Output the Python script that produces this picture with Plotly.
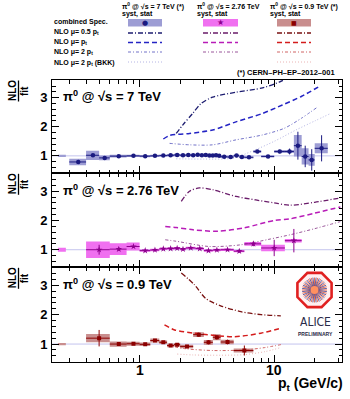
import plotly.graph_objects as go
import numpy as np

W, H = 350, 399
FONT = "Liberation Sans"

# ---------------- data (ratio NLO / fit) ----------------
# 7 TeV combined spectrum
pt_edges_7 = [0.3, 0.4, 0.5, 0.6, 0.8, 1.0, 1.2, 1.4, 1.6, 1.8, 2.0, 2.2, 2.4, 2.6, 2.8, 3.0,
              3.2, 3.4, 3.6, 3.8, 4.0, 4.5, 5.0, 5.5, 6.0, 7.0, 8.0, 10, 12, 14, 16, 18, 20, 25]
ratio_7 = [0.79, 1.02, 0.93, 0.99, 1.00, 0.99, 1.00, 1.01, 1.02, 1.03, 1.02, 1.03, 1.02, 1.04, 1.02,
           1.03, 1.01, 1.01, 1.02, 1.00, 0.97, 0.96, 1.01, 0.96, 0.95, 1.15, 0.98, 1.15, 1.15,
           1.35, 0.98, 0.86, 1.26]
stat_7 = [0.07, 0.05, 0.05, 0.03, 0.02, 0.02, 0.02, 0.02, 0.02, 0.02, 0.02, 0.02, 0.02, 0.02, 0.02,
          0.02, 0.02, 0.02, 0.02, 0.02, 0.02, 0.02, 0.03, 0.03, 0.03, 0.04, 0.04, 0.06, 0.10,
          0.48, 0.37, 0.37, 0.45]
syst_7 = [0.11, 0.16, 0.08, 0.05, 0.04, 0.04, 0.04, 0.04, 0.04, 0.04, 0.04, 0.04, 0.04, 0.04, 0.04,
          0.04, 0.04, 0.04, 0.04, 0.04, 0.04, 0.04, 0.04, 0.04, 0.04, 0.05, 0.04, 0.05, 0.05,
          0.37, 0.28, 0.20, 0.17]

# 2.76 TeV
pt_edges_276 = [0.4, 0.6, 0.8, 1.0, 1.2, 1.4, 1.6, 1.8, 2.0, 2.2, 2.6, 3.0, 3.5, 4.0, 5.0, 6.0, 8.0, 12, 16]
ratio_276 = [1.00, 1.02, 1.11, 0.97, 0.99, 1.03, 1.04, 1.05, 1.02, 1.06, 1.04, 0.97, 0.99, 1.00,
             0.95, 1.20, 1.06, 1.31]
stat_276 = [0.17, 0.06, 0.05, 0.02, 0.02, 0.02, 0.02, 0.02, 0.02, 0.03, 0.03, 0.03, 0.03, 0.04,
            0.05, 0.08, 0.28, 0.40]
syst_276 = [0.28, 0.20, 0.14, 0.04, 0.04, 0.04, 0.04, 0.04, 0.04, 0.04, 0.04, 0.04, 0.04, 0.04,
            0.04, 0.06, 0.11, 0.06]

# 0.9 TeV
pt_edges_09 = [0.4, 0.6, 0.8, 1.0, 1.2, 1.4, 1.6, 1.8, 2.0, 2.5, 3.0, 3.5, 4.0, 5.0, 7.0]
ratio_09 = [1.20, 1.00, 1.01, 0.99, 1.12, 1.06, 0.95, 0.98, 0.92, 1.32, 1.06, 1.23, 1.07, 0.78]
stat_09 = [0.28, 0.05, 0.04, 0.03, 0.04, 0.04, 0.04, 0.05, 0.05, 0.07, 0.07, 0.08, 0.08, 0.17]
syst_09 = [0.14, 0.09, 0.07, 0.06, 0.07, 0.06, 0.06, 0.06, 0.06, 0.08, 0.08, 0.10, 0.08, 0.07]

# normalisation uncertainty boxes (drawn at left edge)
norm_pt = [0.247, 0.283]
norm_unc = [0.035, 0.07, 0.04]

# NLO curves: 7 TeV
nlo05_7_pt = [1.87, 2.09, 2.48, 2.86, 3.49, 5.2, 8.19, 10.9, 14, 18]
nlo05_7 = [1.77, 2.06, 2.46, 2.80, 3.02, 3.19, 3.34, 3.54, 3.80, 4.10]
nlo1_7_pt = [1.5, 1.67, 2.35, 3.49, 5.2, 8.19, 11.5, 16, 22.2]
nlo1_7 = [1.58, 1.70, 1.77, 1.89, 2.17, 2.46, 2.75, 3.05, 3.42]
nlo2_7_pt = [1.67, 2.35, 3.49, 5.2, 8.19, 11.9, 16, 21]
nlo2_7 = [1.43, 1.38, 1.38, 1.55, 1.72, 1.95, 2.30, 2.68]
bkk_7_pt = [1.87, 3.0, 4.9, 7.0, 10, 14.5, 20, 26.3]
bkk_7 = [0.90, 0.89, 0.92, 1.18, 1.50, 1.89, 2.20, 2.46]

# NLO curves: 2.76 TeV
nlo05_276_pt = [2.04, 2.35, 2.78, 3.49, 5.2, 7.3, 10, 13, 20, 31]
nlo05_276 = [2.65, 3.00, 3.11, 3.05, 2.82, 2.70, 2.60, 2.52, 2.62, 2.77]
nlo1_276_pt = [1.55, 1.87, 2.5, 3.8, 6.0, 10, 13, 20, 31]
nlo1_276 = [1.79, 1.76, 1.68, 1.63, 1.75, 2.00, 2.05, 2.25, 2.46]
nlo2_276_pt = [1.55, 1.87, 3.3, 5.7, 9, 13.4, 20, 31]
nlo2_276 = [1.34, 1.29, 1.11, 1.17, 1.35, 1.52, 1.72, 1.96]

# NLO curves: 0.9 TeV
nlo05_09_pt = [2.04, 2.55, 3.1, 4.0, 5.66, 8, 11.2]
nlo05_09 = [3.42, 3.02, 2.55, 2.30, 2.10, 2.00, 1.96]
nlo1_09_pt = [1.53, 1.82, 2.55, 5.05, 7.96, 11.2]
nlo1_09 = [1.65, 1.48, 1.37, 1.25, 1.37, 1.54]
nlo2_09_pt = [1.6, 2.2, 3.5, 6, 8.5, 11.2]
nlo2_09 = [0.95, 0.84, 0.78, 0.80, 0.88, 0.98]
bkk_09_pt = [1.9, 2.5, 4, 6, 8.5, 11.2]
bkk_09 = [0.66, 0.63, 0.62, 0.64, 0.74, 0.88]

panel_titles = ["π<sup>0</sup> @ √s = 7 TeV", "π<sup>0</sup> @ √s = 2.76 TeV",
                "π<sup>0</sup> @ √s = 0.9 TeV"]
legend_headers = ["π<sup>0</sup> @ √s = 7 TeV (*)", "π<sup>0</sup> @ √s = 2.76 TeV",
                  "π<sup>0</sup> @ √s = 0.9 TeV (*)"]
legend_rows = ["combined Spec.", "NLO μ= 0.5 p<sub>t</sub>", "NLO μ= p<sub>t</sub>",
               "NLO μ= 2 p<sub>t</sub>", "NLO μ= 2 p<sub>t</sub> (BKK)"]
x_tick_vals = [1, 10]
x_tick_text = ["1", "10"]
x_minor_vals = [0.3, 0.4, 0.5, 0.6, 0.7, 0.8, 0.9, 2, 3, 4, 5, 6, 7, 8, 9, 20, 30]
y_tick_vals = [1, 2, 3]

# ---------------- styles ----------------
COL = [
    dict(mark='#1a1a80', box='#9d9dd4', c05='#1c1c70', c1='#2424c4', c2='#7272c8', bkk='#b4b4e4'),
    dict(mark='#8e008e', box='#f070f0', c05='#6a1c6a', c1='#b81cb8', c2='#9a569a', bkk='#ecb8ec'),
    dict(mark='#8c0000', box='#c98e8e', c05='#7a1212', c1='#d41c1c', c2='#d06464', bkk='#eab4b4'),
]
D05 = "5px,2px,1px,2px"
D1 = "5px,3px"
D2 = "3px,2px,1px,2px"
DBKK = "1px,2px"
SYMS = ['circle', 'star', 'square']
MSIZE = [4.5, 5, 4]


def px_x(p):
    return p / W


def px_y(p):
    return 1 - p / H


tops = [80.0, 173.3, 267.3]
bots = [173.3, 267.3, 361.7]
XDOM = [px_x(52), px_x(342)]
YR = [0.4, 3.61]

datasets = [
    (pt_edges_7, ratio_7, stat_7, syst_7,
     [(nlo05_7_pt, nlo05_7, 'c05', D05, 1.3), (nlo1_7_pt, nlo1_7, 'c1', D1, 1.5),
      (nlo2_7_pt, nlo2_7, 'c2', D2, 1.0), (bkk_7_pt, bkk_7, 'bkk', DBKK, 1.0)]),
    (pt_edges_276, ratio_276, stat_276, syst_276,
     [(nlo05_276_pt, nlo05_276, 'c05', D05, 1.3), (nlo1_276_pt, nlo1_276, 'c1', D1, 1.5),
      (nlo2_276_pt, nlo2_276, 'c2', D2, 1.0)]),
    (pt_edges_09, ratio_09, stat_09, syst_09,
     [(nlo05_09_pt, nlo05_09, 'c05', D05, 1.3), (nlo1_09_pt, nlo1_09, 'c1', D1, 1.5),
      (nlo2_09_pt, nlo2_09, 'c2', D2, 1.0), (bkk_09_pt, bkk_09, 'bkk', DBKK, 1.0)]),
]

fig = go.Figure()
shapes = []
annotations = []

for i, (edges, vals, stat, syst, curves) in enumerate(datasets):
    n = i + 1
    xa = 'x' if n == 1 else f'x{n}'
    ya = 'y' if n == 1 else f'y{n}'
    c = COL[i]
    edges = np.array(edges, float)
    vals = np.array(vals, float)
    lo, hi = edges[:-1], edges[1:]
    ctr = 0.5 * (lo + hi)
    # systematic boxes
    bx, by = [], []
    for l, h, v, s in zip(lo, hi, vals, syst):
        bx += [l, h, h, l, l, None]
        by += [v - s, v - s, v + s, v + s, v - s, None]
    # normalisation box
    bx += [norm_pt[0], norm_pt[1], norm_pt[1], norm_pt[0], norm_pt[0], None]
    u = norm_unc[i]
    by += [1 - u, 1 - u, 1 + u, 1 + u, 1 - u, None]
    fig.add_trace(go.Scatter(x=bx, y=by, mode='lines', fill='toself', fillcolor=c['box'],
                             line=dict(width=0, color=c['box']), xaxis=xa, yaxis=ya,
                             hoverinfo='skip'))
    # NLO curves
    for cx_, cy_, key, dash, wid in curves:
        fig.add_trace(go.Scatter(x=cx_, y=cy_, mode='lines',
                                 line=dict(color=c[key], dash=dash, width=wid, shape='spline',
                                           smoothing=0.8),
                                 xaxis=xa, yaxis=ya, hoverinfo='skip'))
    # data points with stat errors and bin widths
    fig.add_trace(go.Scatter(
        x=ctr, y=vals, mode='markers',
        marker=dict(symbol=SYMS[i], size=MSIZE[i], color=c['mark']),
        error_y=dict(type='data', array=stat, width=0, thickness=1, color=c['mark']),
        error_x=dict(type='data', array=hi - ctr, arrayminus=ctr - lo, width=0, thickness=1,
                     color=c['mark']),
        xaxis=xa, yaxis=ya, hoverinfo='skip'))
    # reference line at 1
    shapes.append(dict(type='line', xref=f'{xa} domain', yref=ya, x0=0, x1=1, y0=1, y1=1,
                       line=dict(color='#c4c4ee', width=1), layer='below'))
    # panel title
    annotations.append(dict(text=panel_titles[i], xref='paper', yref=ya, x=px_x(61), y=3.05,
                            xanchor='left', yanchor='middle', showarrow=False,
                            font=dict(family=FONT, size=13, color='black', weight='bold')))
    # NLO / fit label
    cyl = tops[i] + 11
    annotations.append(dict(text="NLO", xref='paper', yref='paper', x=px_x(12), y=px_y(cyl),
                            textangle=-90, showarrow=False, xanchor='center', yanchor='middle',
                            font=dict(family=FONT, size=10, color='black', weight='bold')))
    annotations.append(dict(text="fit", xref='paper', yref='paper', x=px_x(24), y=px_y(cyl),
                            textangle=-90, showarrow=False, xanchor='center', yanchor='middle',
                            font=dict(family=FONT, size=10, color='black', weight='bold')))
    shapes.append(dict(type='line', xref='paper', yref='paper', x0=px_x(18.5), x1=px_x(18.5),
                       y0=px_y(cyl - 10.5), y1=px_y(cyl + 10.5),
                       line=dict(color='black', width=1.3)))

# ---------------- axes ----------------
layout_axes = {}
for i in range(3):
    n = i + 1
    xk = 'xaxis' if n == 1 else f'xaxis{n}'
    yk = 'yaxis' if n == 1 else f'yaxis{n}'
    ya = 'y' if n == 1 else f'y{n}'
    xa = 'x' if n == 1 else f'x{n}'
    layout_axes[xk] = dict(
        type='log', range=[np.log10(0.2233), np.log10(31.9)], domain=XDOM, anchor=ya,
        showgrid=False, zeroline=False, showline=True, linecolor='black', linewidth=1,
        mirror='ticks', ticks='inside', ticklen=7, tickcolor='black', tickwidth=1,
        tickmode='array', tickvals=x_tick_vals, showticklabels=False,
        minor=dict(tickmode='array', tickvals=x_minor_vals, ticks='inside', ticklen=3.5,
                   tickcolor='black', tickwidth=1, showgrid=False),
    )
    if n > 1:
        layout_axes[xk]['matches'] = 'x'
    layout_axes[yk] = dict(
        range=YR, domain=[px_y(bots[i]), px_y(tops[i])], anchor=xa,
        showgrid=False, zeroline=False, showline=True, linecolor='black', linewidth=1,
        mirror='ticks', ticks='inside', ticklen=7, tickcolor='black', tickwidth=1,
        tickmode='array', tickvals=y_tick_vals, ticktext=[str(v) for v in y_tick_vals],
        tickfont=dict(family=FONT, size=13, color='black', weight='bold'),
        ticklabelstandoff=1,
        minor=dict(dtick=0.2, tick0=0, ticks='inside', ticklen=3.5, tickcolor='black',
                   tickwidth=1, showgrid=False),
    )

# x tick labels (bottom panel) placed at the axis values
for v, t in zip(x_tick_vals, x_tick_text):
    annotations.append(dict(text=t, xref='x3', yref='paper', x=np.log10(v), y=px_y(369.5),
                            xanchor='center', yanchor='middle', showarrow=False,
                            font=dict(family=FONT, size=14, color='black', weight='bold')))

# x title
annotations.append(dict(text="p<sub>t</sub> (GeV/c)", xref='paper', yref='paper',
                        x=px_x(345), y=px_y(384), xanchor='right', yanchor='middle',
                        showarrow=False,
                        font=dict(family=FONT, size=14, color='black', weight='bold')))

# ---------------- legend block ----------------
LF = dict(family=FONT, size=7, color='black', weight='bold')
col_x = [120, 195, 268]
box_x = [(128, 162), (203, 238), (277, 311)]
for j in range(3):
    annotations.append(dict(text=legend_headers[j], xref='paper', yref='paper',
                            x=px_x(col_x[j]), y=px_y(6.5), xanchor='left', yanchor='middle',
                            showarrow=False, font=LF))
    annotations.append(dict(text="syst, stat", xref='paper', yref='paper',
                            x=px_x(col_x[j]), y=px_y(14), xanchor='left', yanchor='middle',
                            showarrow=False, font=LF))
row_y = [22.5, 32.5, 42.5, 52.5, 63]
for k, txt in enumerate(legend_rows):
    annotations.append(dict(text=txt, xref='paper', yref='paper', x=px_x(52), y=px_y(row_y[k]),
                            xanchor='left', yanchor='middle', showarrow=False, font=LF))
sample_y = [33, 42.5, 52, 62]
sample_keys = [('c05', D05, 1.3), ('c1', D1, 1.6), ('c2', D2, 1.0), ('bkk', DBKK, 1.0)]
glyphs = ['●', '★', '■']
gsize = [7, 8, 6]
for j in range(3):
    x0, x1 = box_x[j]
    c = COL[j]
    shapes.append(dict(type='rect', xref='paper', yref='paper', x0=px_x(x0), x1=px_x(x1),
                       y0=px_y(26.5), y1=px_y(19), fillcolor=c['box'], line=dict(width=0)))
    annotations.append(dict(text=glyphs[j], xref='paper', yref='paper',
                            x=px_x((x0 + x1) / 2), y=px_y(22.7), xanchor='center',
                            yanchor='middle', showarrow=False,
                            font=dict(family="DejaVu Sans", size=gsize[j], color=c['mark'])))
    for k, (key, dash, wid) in enumerate(sample_keys):
        if j == 1 and key == 'bkk':
            continue
        shapes.append(dict(type='line', xref='paper', yref='paper', x0=px_x(x0), x1=px_x(x1),
                           y0=px_y(sample_y[k]), y1=px_y(sample_y[k]),
                           line=dict(color=c[key], width=wid, dash=dash)))

annotations.append(dict(text="(*) CERN–PH–EP–2012–001", xref='paper', yref='paper',
                        x=px_x(337), y=px_y(72), xanchor='right', yanchor='middle',
                        showarrow=False, font=dict(family=FONT, size=7.5, color='black',
                                                   weight='bold')))

# ---------------- ALICE logo ----------------
cx, cy, R = 314.5, 290.0, 18.5
ang = np.deg2rad(22.5 + 45 * np.arange(8))
oct_pts = [(cx + R * np.cos(a), cy + R * np.sin(a)) for a in ang]
path = "M " + " L ".join(f"{px_x(x):.5f},{px_y(y):.5f}" for x, y in oct_pts) + " Z"
shapes.append(dict(type='path', xref='paper', yref='paper', path=path,
                   fillcolor='#fff0f0', line=dict(color='#e02020', width=2.6)))
r_in = 12.5
for deg_step, colr in [(0, '#e05030'), (7.5, '#3a3a8a')]:
    segs = []
    for a in np.deg2rad(np.arange(deg_step, 360, 15)):
        segs.append(f"M {px_x(cx):.5f},{px_y(cy):.5f} L {px_x(cx + r_in*np.cos(a)):.5f},"
                    f"{px_y(cy + r_in*np.sin(a)):.5f}")
    shapes.append(dict(type='path', xref='paper', yref='paper', path=" ".join(segs),
                       line=dict(color=colr, width=0.8)))
shapes.append(dict(type='circle', xref='paper', yref='paper', x0=px_x(cx - 4), x1=px_x(cx + 4),
                   y0=px_y(cy - 4), y1=px_y(cy + 4), fillcolor='#ff9060',
                   line=dict(width=0)))
annotations.append(dict(text="ALICE", xref='paper', yref='paper', x=px_x(315), y=px_y(321.5),
                        xanchor='center', yanchor='middle', showarrow=False,
                        font=dict(family="DejaVu Sans Condensed", size=12, color='#2a2a48')))
annotations.append(dict(text="PRELIMINARY", xref='paper', yref='paper', x=px_x(315),
                        y=px_y(334), xanchor='center', yanchor='middle', showarrow=False,
                        font=dict(family=FONT, size=5, color='#2a2a48', weight='bold')))

fig.update_layout(
    width=W, height=H, margin=dict(l=0, r=0, t=0, b=0),
    paper_bgcolor='white', plot_bgcolor='white', showlegend=False,
    shapes=shapes, annotations=annotations, **layout_axes,
)

fig.write_html("out.html")
